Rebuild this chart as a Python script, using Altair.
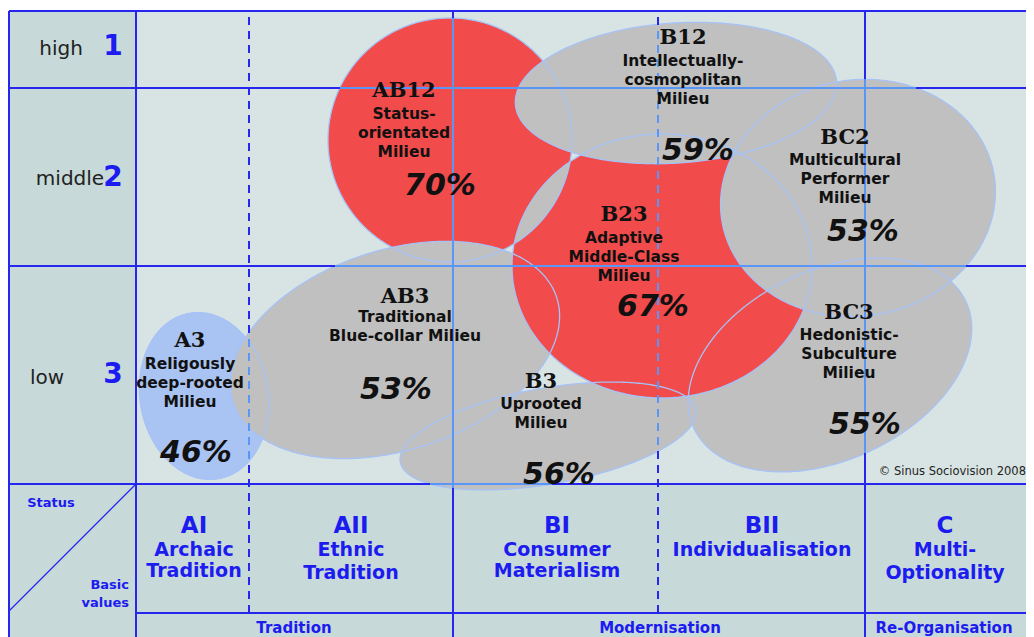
import altair as alt
import numpy as np
import pandas as pd

# ---------------- data ----------------
# Sinus milieus: code, description lines, share (%)
milieu_code = ["AB12", "B12", "BC2", "B23", "AB3", "A3", "B3", "BC3"]
milieu_name = [
    ["Status-", "orientated", "Milieu"],
    ["Intellectually-", "cosmopolitan", "Milieu"],
    ["Multicultural", "Performer", "Milieu"],
    ["Adaptive", "Middle-Class", "Milieu"],
    ["Traditional", "Blue-collar Milieu"],
    ["Religously", "deep-rooted", "Milieu"],
    ["Uprooted", "Milieu"],
    ["Hedonistic-", "Subculture", "Milieu"],
]
milieu_share = [70, 59, 53, 67, 53, 46, 56, 55]

status_label = ["high", "middle", "low"]
status_num = ["1", "2", "3"]
value_code = ["AI", "AII", "BI", "BII", "C"]
value_name = [["Archaic", "Tradition"], ["Ethnic", "Tradition"], ["Consumer", "Materialism"],
              ["Individualisation"], ["Multi-", "Optionality"]]
value_group = ["Tradition", "Modernisation", "Re-Organisation"]
copyright_note = "© Sinus Sociovision 2008"

# ---------------- layout (page pixel coordinates) ----------------
W, H = 1018, 629
xs = alt.Scale(domain=[8, 8 + W], range=[0, W], nice=False, zero=False)
ys = alt.Scale(domain=[8, 8 + H], range=[0, H], nice=False, zero=False)


def X(f):
    return alt.X(f, type="quantitative", scale=xs, axis=None)


def Y(f):
    return alt.Y(f, type="quantitative", scale=ys, axis=None)


# label anchors for the milieus
code_x = [404, 683, 845, 624, 405, 190, 541, 849]
code_y = [91, 38, 138, 215, 297, 341, 382, 313]
name_y0 = [114, 61, 160, 238, 317, 364, 404, 335]
share_x = [440, 698, 863, 653, 396, 196, 559, 865]
share_y = [186, 151, 232, 307, 390, 453, 475, 425]
LINE = 19

# milieu shapes (ellipses), in drawing order: centre, radii, rotation (deg)
shape_id = ["A3", "AB12", "AB3", "B3", "BC3", "B23", "B12", "BC2"]
shape_fill = ["#a9c3f2", "#f24b4b", "#c0c0c0", "#c0c0c0", "#c0c0c0", "#f24b4b", "#c0c0c0", "#c0c0c0"]
shape_cx = [204, 450, 395, 548, 830, 662, 676, 858]
shape_cy = [396, 140, 350, 436, 365, 266, 93, 198]
shape_rx = [64, 122, 170, 150, 150, 150, 161, 138]
shape_ry = [84, 122, 100, 48, 95, 132, 70, 118]
shape_rot = [-10, 0, -18, -10, -25, 0, -4, -10]
shape_params = dict(zip(shape_id, zip(shape_cx, shape_cy, shape_rx, shape_ry, shape_rot)))


def ellipse(cx, cy, rx, ry, ang, n=361):
    t = np.linspace(0, 2 * np.pi, n)
    th = np.radians(ang)
    px = cx + rx * np.cos(t) * np.cos(th) - ry * np.sin(t) * np.sin(th)
    py = cy + rx * np.cos(t) * np.sin(th) + ry * np.sin(t) * np.cos(th)
    return px, py


def in_ellipse(px, py, cx, cy, rx, ry, ang):
    th = np.radians(ang)
    dx, dy = px - cx, py - cy
    u = dx * np.cos(th) + dy * np.sin(th)
    v = -dx * np.sin(th) + dy * np.cos(th)
    return (u / rx) ** 2 + (v / ry) ** 2 <= 1


def inside(px, py):
    return any(in_ellipse(px, py, *p) for p in shape_params.values())


rows = []
for k, sid in enumerate(shape_id):
    px, py = ellipse(*shape_params[sid])
    for i, (a, b) in enumerate(zip(px, py)):
        rows.append(dict(id=sid, i=i, x=float(a), y=float(b)))
shapes = pd.DataFrame(rows)

# overlap of the two red milieus (shown grey)
ax_, ay_ = ellipse(*shape_params["AB12"], n=1441)
bx_, by_ = ellipse(*shape_params["B23"], n=1441)
lp = [(a, b) for a, b in zip(ax_, ay_) if in_ellipse(a, b, *shape_params["B23"])]
lp += [(a, b) for a, b in zip(bx_, by_) if in_ellipse(a, b, *shape_params["AB12"])]
lp = np.array(lp)
c0 = lp.mean(axis=0)
lp = lp[np.argsort(np.arctan2(lp[:, 1] - c0[1], lp[:, 0] - c0[0]))]
lens = pd.DataFrame({"id": "lens", "i": range(len(lp)), "x": lp[:, 0], "y": lp[:, 1]})

# grid lines: (x1, y1, x2, y2, dashed)
grid = [
    (9, 11, 1034, 11, False),
    (9, 11, 9, 637, False),
    (9, 88, 1034, 88, False),
    (9, 266, 1034, 266, False),
    (9, 484, 1034, 484, False),
    (136, 613, 1034, 613, False),
    (136, 11, 136, 637, False),
    (453, 11, 453, 637, False),
    (865, 11, 865, 637, False),
    (249, 17, 249, 613, True),
    (658, 17, 658, 613, True),
]
segs = []
for x1, y1, x2, y2, dashed in grid:
    L = max(abs(x2 - x1), abs(y2 - y1))
    ux, uy = (x2 - x1) / L, (y2 - y1) / L
    if dashed:
        s = 0
        while s < L:
            e = min(s + 8, L)
            m = (s + e) / 2
            segs.append(dict(x=x1 + ux * s, y=y1 + uy * s, x2=x1 + ux * e, y2=y1 + uy * e,
                             cls="in" if inside(x1 + ux * m, y1 + uy * m) else "out"))
            s += 14
    else:
        cls = [inside(x1 + ux * (s + 0.5), y1 + uy * (s + 0.5)) for s in range(int(L))]
        start = 0
        for k in range(1, len(cls) + 1):
            if k == len(cls) or cls[k] != cls[start]:
                segs.append(dict(x=x1 + ux * start, y=y1 + uy * start, x2=x1 + ux * k,
                                 y2=y1 + uy * k, cls="in" if cls[start] else "out"))
                start = k
segs = pd.DataFrame(segs)

# ---------------- layers ----------------
bg = pd.DataFrame({"x": [9, 136, 136], "x2": [136, 1034, 1034], "y": [11, 11, 484],
                   "y2": [637, 484, 637], "c": ["#c7d9d9", "#d8e4e4", "#c7d9d9"]})
bg_layer = alt.Chart(bg).mark_rect().encode(
    x=X("x"), x2=alt.X2("x2"), y=Y("y"), y2=alt.Y2("y2"), fill=alt.Fill("c:N", scale=None))


def fill_layer(df, color):
    return alt.Chart(df).mark_line(
        fill=color, stroke=color, strokeWidth=0, interpolate="linear-closed").encode(
        x=X("x"), y=Y("y"), detail="id:N", order="i:Q")


fills = [fill_layer(shapes[shapes.id == sid], col) for sid, col in zip(shape_id, shape_fill)]
fills.append(fill_layer(lens, "#c0c0c0"))

outline_layer = alt.Chart(shapes).mark_line(stroke="#a6c2f7", strokeWidth=1.3).encode(
    x=X("x"), y=Y("y"), detail="id:N", order="i:Q")

grid_out = alt.Chart(segs[segs.cls == "out"]).mark_rule(stroke="#2626ee", strokeWidth=2).encode(
    x=X("x"), y=Y("y"), x2=alt.X2("x2"), y2=alt.Y2("y2"))
grid_in = alt.Chart(segs[segs.cls == "in"]).mark_rule(stroke="#5a96f8", strokeWidth=2).encode(
    x=X("x"), y=Y("y"), x2=alt.X2("x2"), y2=alt.Y2("y2"))
diag = alt.Chart(pd.DataFrame({"x": [136], "y": [484], "x2": [9], "y2": [611]})).mark_rule(
    stroke="#2626ee", strokeWidth=1.3).encode(x=X("x"), y=Y("y"), x2=alt.X2("x2"), y2=alt.Y2("y2"))

# text tables
codes_df = pd.DataFrame({"t": milieu_code, "x": code_x, "y": code_y})
names_rows = []
for nm, x0, y0 in zip(milieu_name, code_x, name_y0):
    for k, line in enumerate(nm):
        names_rows.append(dict(t=line, x=x0, y=y0 + k * LINE))
names_df = pd.DataFrame(names_rows)
share_df = pd.DataFrame({"t": [f"{v}%" for v in milieu_share], "x": share_x, "y": share_y})

row_lab_df = pd.DataFrame({"t": status_label, "x": [61, 70, 47], "y": [49, 179, 378]})
row_num_df = pd.DataFrame({"t": status_num, "x": [113, 113, 113], "y": [47, 178, 375]})
col_code_df = pd.DataFrame({"t": value_code, "x": [194, 351, 557, 762, 945], "y": [526] * 5})
col_name_rows = []
col_cx = [194, 351, 557, 762, 945]
col_y0 = [550, 550, 550, 550, 550]
col_gap = [21, 23, 21, 21, 23]
for nm, x0, y0, g in zip(value_name, col_cx, col_y0, col_gap):
    for k, line in enumerate(nm):
        col_name_rows.append(dict(t=line, x=x0, y=y0 + k * g))
col_name_df = pd.DataFrame(col_name_rows)
group_df = pd.DataFrame({"t": value_group, "x": [294, 660, 944], "y": [628, 628, 628]})
corner_df = pd.DataFrame({"t": ["Status", "Basic", "values"], "x": [51, 129, 129],
                          "y": [503, 585, 603], "a": ["center", "right", "right"]})
copy_df = pd.DataFrame({"t": [copyright_note], "x": [1026], "y": [472]})

SANS = "DejaVu Sans"
BLUE = "#1c1cf0"


def text_layer(df, size, color, weight="normal", style="normal", font=SANS, align="center"):
    return alt.Chart(df).mark_text(fontSize=size, fontWeight=weight, fontStyle=style, font=font,
                                   color=color, align=align, baseline="middle").encode(
        x=X("x"), y=Y("y"), text="t:N")


corner_c = text_layer(corner_df[corner_df.a == "center"], 13, BLUE, "bold")
corner_r = text_layer(corner_df[corner_df.a == "right"], 13, BLUE, "bold", align="right")

chart = alt.layer(
    bg_layer,
    *fills,
    outline_layer,
    grid_out,
    grid_in,
    diag,
    text_layer(codes_df, 21, "#111111", "bold", font="DejaVu Serif"),
    text_layer(names_df, 15.5, "#111111", "bold"),
    text_layer(share_df, 30, "#111111", "bold", "italic"),
    text_layer(row_lab_df, 20, "#222222"),
    text_layer(row_num_df, 28, BLUE, "bold"),
    text_layer(col_code_df, 23, BLUE, "bold"),
    text_layer(col_name_df, 19, BLUE, "bold"),
    text_layer(group_df, 15, BLUE, "bold"),
    corner_c,
    corner_r,
    text_layer(copy_df, 11.5, "#222222", align="right"),
).properties(
    width=W, height=H, padding=0, autosize=alt.AutoSizeParams(type="none"), background="white"
).configure_view(stroke=None)

chart.save("out.html", embed_options={"renderer": "svg", "actions": False})
